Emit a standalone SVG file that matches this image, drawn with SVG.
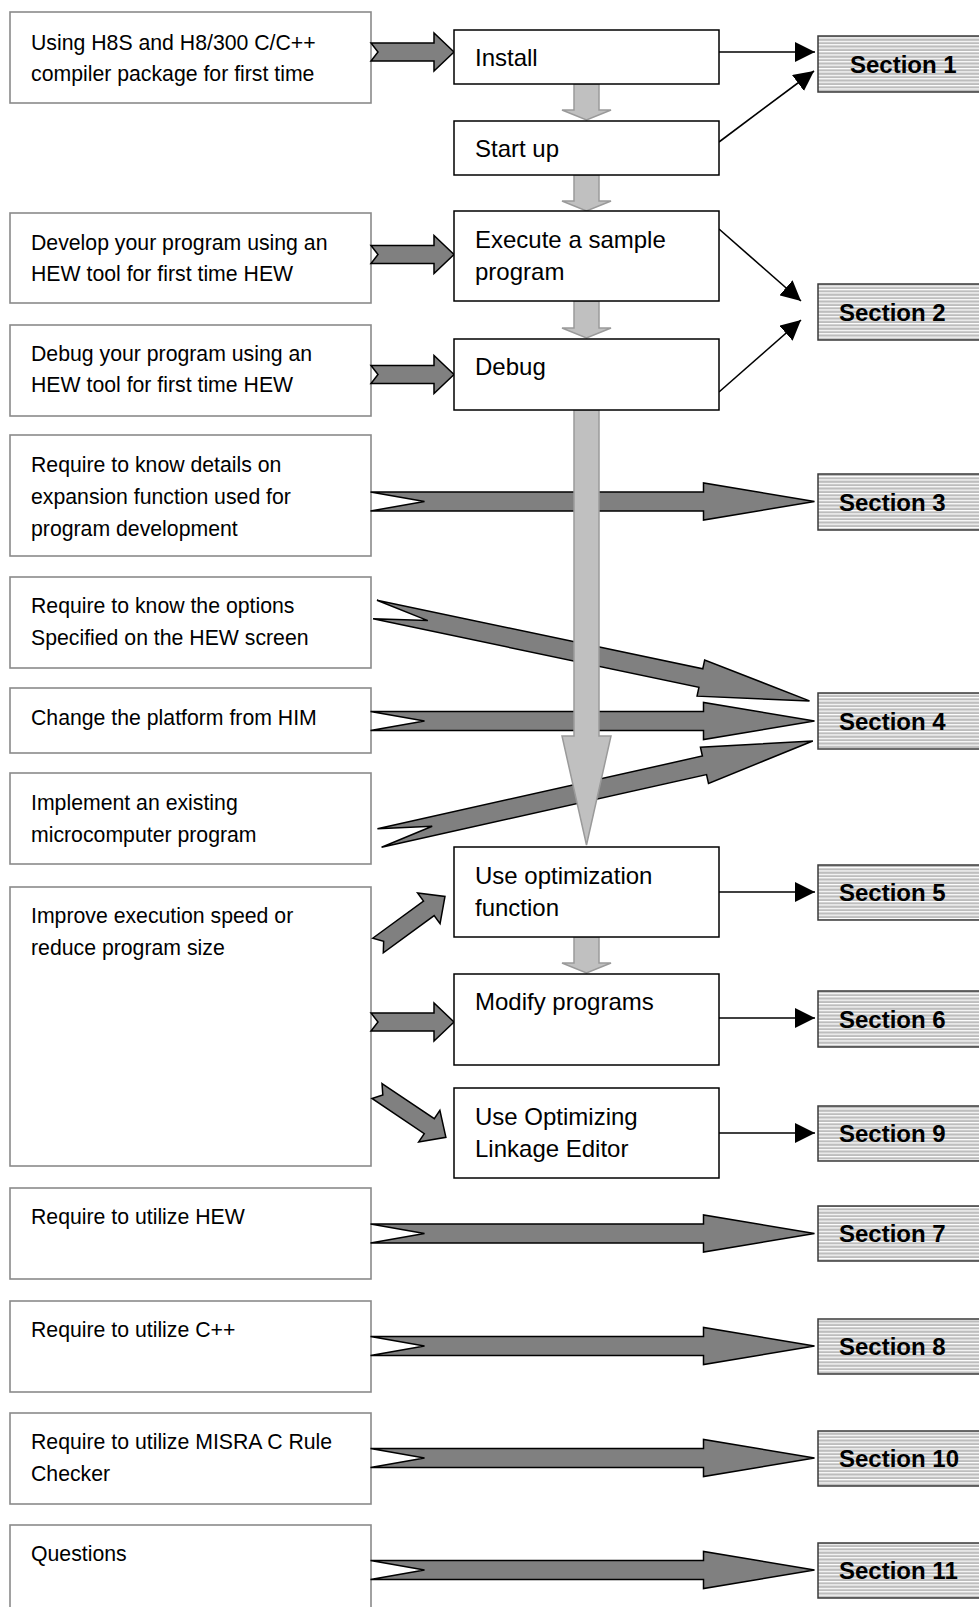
<svg xmlns="http://www.w3.org/2000/svg" xmlns:xlink="http://www.w3.org/1999/xlink" width="979" height="1607" viewBox="0 0 979 1607">
<style>
  .lbox { fill: #ffffff; stroke: #8a8a8a; stroke-width: 1.6; }
  .rbox { fill: #ffffff; stroke: #000000; stroke-width: 1.5; }
  .sbox { fill: url(#stripes); stroke: #3a3a3a; stroke-width: 1.5; }
  .lt { font-family: "Liberation Sans", Arial, sans-serif; font-size: 21.25px; fill: #000; }
  .rt { font-family: "Liberation Sans", Arial, sans-serif; font-size: 24px; fill: #000; }
  .st { font-family: "Liberation Sans", Arial, sans-serif; font-size: 24px; font-weight: bold; fill: #000; }
  .fat { fill: #808080; stroke: #000000; stroke-width: 1.5; stroke-linejoin: miter; }
  .flow { fill: #c0c0c0; stroke: #9a9a9a; stroke-width: 1.5; }
  .thin { fill: none; stroke: #000000; stroke-width: 1.6; marker-end: url(#head); }
</style>
<defs>
  <pattern id="stripes" patternUnits="userSpaceOnUse" width="10" height="3.4">
    <rect x="0" y="0" width="10" height="3.4" fill="#bdbdbd"/>
    <rect x="0" y="0" width="10" height="1.2" fill="#ffffff"/>
  </pattern>
  <marker id="head" markerUnits="userSpaceOnUse" markerWidth="20" markerHeight="20" refX="20" refY="10" orient="auto" viewBox="0 0 20 20">
    <path d="M0,0 L20,10 L0,20 Z" fill="#000"/>
  </marker>
  <path id="longArrow" class="fat" d="M0,-9.5 L333,-9.5 L333,-18.5 L444,0 L333,18.5 L333,9.5 L0,9.5 L54,0 Z"/>
  <path id="shortArrow" class="fat" d="M0,-9 L63,-9 L63,-19 L83,0 L63,19 L63,9 L0,9 L7,0 Z"/>
</defs>
<rect x="0" y="0" width="979" height="1607" fill="#ffffff"/>

<!-- Section boxes -->
<g id="section1"><rect class="sbox" x="818" y="36" width="175" height="56"/><text class="st" x="850" y="72.5">Section 1</text></g>
<g id="section2"><rect class="sbox" x="818" y="284" width="175" height="56"/><text class="st" x="839" y="320.5">Section 2</text></g>
<g id="section3"><rect class="sbox" x="818" y="474" width="175" height="56"/><text class="st" x="839" y="510.5">Section 3</text></g>
<g id="section4"><rect class="sbox" x="818" y="693" width="175" height="56"/><text class="st" x="839" y="729.5">Section 4</text></g>
<g id="section5"><rect class="sbox" x="818" y="865" width="175" height="55"/><text class="st" x="839" y="901">Section 5</text></g>
<g id="section6"><rect class="sbox" x="818" y="991" width="175" height="56"/><text class="st" x="839" y="1027.5">Section 6</text></g>
<g id="section9"><rect class="sbox" x="818" y="1106" width="175" height="55"/><text class="st" x="839" y="1142">Section 9</text></g>
<g id="section7"><rect class="sbox" x="818" y="1206" width="175" height="55"/><text class="st" x="839" y="1242">Section 7</text></g>
<g id="section8"><rect class="sbox" x="818" y="1319" width="175" height="55"/><text class="st" x="839" y="1355">Section 8</text></g>
<g id="section10"><rect class="sbox" x="818" y="1431" width="175" height="55"/><text class="st" x="839" y="1467">Section 10</text></g>
<g id="section11"><rect class="sbox" x="818" y="1543" width="175" height="55"/><text class="st" x="839" y="1579">Section 11</text></g>

<!-- Left boxes -->
<g id="first-time"><rect class="lbox" x="10" y="12" width="361" height="91"/>
  <text class="lt" x="31" y="50">Using H8S and H8/300 C/C++</text>
  <text class="lt" x="31" y="81">compiler package for first time</text></g>
<g id="develop"><rect class="lbox" x="10" y="213" width="361" height="90"/>
  <text class="lt" x="31" y="250">Develop your program using an</text>
  <text class="lt" x="31" y="281">HEW tool for first time HEW</text></g>
<g id="debug-hew"><rect class="lbox" x="10" y="325" width="361" height="91"/>
  <text class="lt" x="31" y="361">Debug your program using an</text>
  <text class="lt" x="31" y="392">HEW tool for first time HEW</text></g>
<g id="expansion"><rect class="lbox" x="10" y="435" width="361" height="121"/>
  <text class="lt" x="31" y="472">Require to know details on</text>
  <text class="lt" x="31" y="504">expansion function used for</text>
  <text class="lt" x="31" y="536">program development</text></g>
<g id="options"><rect class="lbox" x="10" y="577" width="361" height="91"/>
  <text class="lt" x="31" y="613">Require to know the options</text>
  <text class="lt" x="31" y="645">Specified on the HEW screen</text></g>
<g id="platform"><rect class="lbox" x="10" y="688" width="361" height="65"/>
  <text class="lt" x="31" y="725">Change the platform from HIM</text></g>
<g id="implement"><rect class="lbox" x="10" y="773" width="361" height="91"/>
  <text class="lt" x="31" y="810">Implement an existing</text>
  <text class="lt" x="31" y="842">microcomputer program</text></g>
<g id="improve"><rect class="lbox" x="10" y="887" width="361" height="279"/>
  <text class="lt" x="31" y="923">Improve execution speed or</text>
  <text class="lt" x="31" y="955">reduce program size</text></g>
<g id="utilize-hew"><rect class="lbox" x="10" y="1188" width="361" height="91"/>
  <text class="lt" x="31" y="1224">Require to utilize HEW</text></g>
<g id="utilize-cpp"><rect class="lbox" x="10" y="1301" width="361" height="91"/>
  <text class="lt" x="31" y="1337">Require to utilize C++</text></g>
<g id="utilize-misra"><rect class="lbox" x="10" y="1413" width="361" height="91"/>
  <text class="lt" x="31" y="1449">Require to utilize MISRA C Rule</text>
  <text class="lt" x="31" y="1481">Checker</text></g>
<g id="questions"><rect class="lbox" x="10" y="1525" width="361" height="100"/>
  <text class="lt" x="31" y="1561">Questions</text></g>

<!-- Connectors -->
<g id="connectors">
  <use xlink:href="#shortArrow" href="#shortArrow" transform="translate(371,52)"/>
  <use xlink:href="#shortArrow" href="#shortArrow" transform="translate(371,254.5)"/>
  <use xlink:href="#shortArrow" href="#shortArrow" transform="translate(371,374.5)"/>
  <use xlink:href="#shortArrow" href="#shortArrow" transform="translate(371,1022)"/>
  <use xlink:href="#shortArrow" href="#shortArrow" transform="translate(378,945.5) rotate(-36.2)"/>
  <use xlink:href="#shortArrow" href="#shortArrow" transform="translate(377,1091) rotate(33.9)"/>

  <use xlink:href="#longArrow" href="#longArrow" transform="translate(370.5,501.5)"/>
  <use xlink:href="#longArrow" href="#longArrow" transform="translate(375,609.5) rotate(11.88)"/>
  <use xlink:href="#longArrow" href="#longArrow" transform="translate(370.5,721)"/>
  <use xlink:href="#longArrow" href="#longArrow" transform="translate(379.5,838) rotate(-12.61)"/>
  <use xlink:href="#longArrow" href="#longArrow" transform="translate(370.5,1233.5)"/>
  <use xlink:href="#longArrow" href="#longArrow" transform="translate(370.5,1346)"/>
  <use xlink:href="#longArrow" href="#longArrow" transform="translate(370.5,1458)"/>
  <use xlink:href="#longArrow" href="#longArrow" transform="translate(370.5,1570)"/>

  <path class="flow" d="M574,84 L574,110 L562,110 L586.5,120 L611,110 L599,110 L599,84 Z"/>
  <path class="flow" d="M574,175 L574,201 L562,201 L586.5,211 L611,201 L599,201 L599,175 Z"/>
  <path class="flow" d="M574,301 L574,328 L562,328 L586.5,338 L611,328 L599,328 L599,301 Z"/>
  <path class="flow" d="M574,410 L574,736 L562,736 L586.5,845 L611,736 L599,736 L599,410 Z"/>
  <path class="flow" d="M574,937 L574,963 L562,963 L586.5,973 L611,963 L599,963 L599,937 Z"/>

  <line class="thin" x1="719" y1="52" x2="815" y2="52"/>
  <line class="thin" x1="719" y1="142" x2="814" y2="71"/>
  <line class="thin" x1="719" y1="229" x2="801" y2="301"/>
  <line class="thin" x1="719" y1="392" x2="801" y2="320"/>
  <line class="thin" x1="719" y1="892" x2="815" y2="892"/>
  <line class="thin" x1="719" y1="1018" x2="815" y2="1018"/>
  <line class="thin" x1="719" y1="1133" x2="815" y2="1133"/>
</g>

<!-- Right (process) boxes -->
<g id="install"><rect class="rbox" x="454" y="30" width="265" height="54"/>
  <text class="rt" x="475" y="66">Install</text></g>
<g id="startup"><rect class="rbox" x="454" y="121" width="265" height="54"/>
  <text class="rt" x="475" y="157">Start up</text></g>
<g id="execute"><rect class="rbox" x="454" y="211" width="265" height="90"/>
  <text class="rt" x="475" y="247.5">Execute a sample</text>
  <text class="rt" x="475" y="280">program</text></g>
<g id="debug"><rect class="rbox" x="454" y="339" width="265" height="71"/>
  <text class="rt" x="475" y="375">Debug</text></g>
<g id="use-optimization"><rect class="rbox" x="454" y="847" width="265" height="90"/>
  <text class="rt" x="475" y="884">Use optimization</text>
  <text class="rt" x="475" y="916">function</text></g>
<g id="modify"><rect class="rbox" x="454" y="974" width="265" height="91"/>
  <text class="rt" x="475" y="1010">Modify programs</text></g>
<g id="linkage-editor"><rect class="rbox" x="454" y="1088" width="265" height="90"/>
  <text class="rt" x="475" y="1125">Use Optimizing</text>
  <text class="rt" x="475" y="1157">Linkage Editor</text></g>
</svg>
